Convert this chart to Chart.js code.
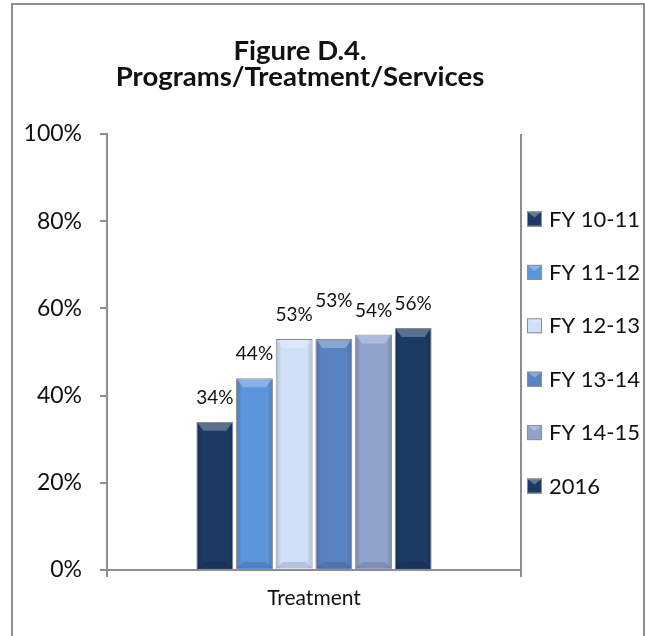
<!DOCTYPE html>
<html>
<head>
<meta charset="utf-8">
<script src="https://cdn.jsdelivr.net/npm/chart.js@4"></script>
<style>
  html, body { margin: 0; padding: 0; background: #fff; }
  #wrap { width: 645px; height: 636px; position: relative; }
</style>
</head>
<body>
<div id="wrap"><canvas id="chart"></canvas></div>
<script>
// data
const categories = ["Treatment"];
const seriesNames = ["FY 10-11", "FY 11-12", "FY 12-13", "FY 13-14", "FY 14-15", "2016"];
const seriesValues = [34, 44, 53, 53, 54, 55.5];
const seriesColors = ["#1d3a64", "#5b95dc", "#cfe0f7", "#5a83c2", "#8fa3cd", "#1d3a64"];
const yTicks = [0, 20, 40, 60, 80, 100];
const titleLines = ["Figure D.4.", "Programs/Treatment/Services"];

// extra lift for labels Excel nudged to avoid overlap
const labelLift = [0, 0, 0, 14, 0, 0];

const FONT = "Lato, 'Open Sans', sans-serif";
const GRAY = "#8e8e8e";

// outer frame + title
const framePlugin = {
  id: "frame",
  beforeDraw(chart) {
    const { ctx } = chart;
    ctx.save();
    ctx.fillStyle = "#fff";
    ctx.fillRect(0, 0, chart.width, chart.height);
    ctx.strokeStyle = GRAY;
    ctx.lineWidth = 2;
    ctx.strokeRect(12, 4, 632, 720);
    ctx.fillStyle = "#111";
    ctx.font = `bold 27.5px ${FONT}`;
    ctx.textAlign = "center";
    ctx.textBaseline = "alphabetic";
    ctx.fillText(titleLines[0], 300, 60);
    ctx.fillText(titleLines[1], 300, 86);
    ctx.restore();
  },
};

// bevel shading, value labels and the legend
const decoPlugin = {
  id: "deco",
  afterDatasetsDraw(chart) {
    const { ctx, chartArea } = chart;
    ctx.save();
    chart.data.datasets.forEach((ds, i) => {
      const meta = chart.getDatasetMeta(i);
      meta.data.forEach((bar, j) => {
        const left = bar.x - bar.width / 2;
        const right = bar.x + bar.width / 2;
        const top = bar.y;
        const bottom = bar.base;
        // side shading
        const g = ctx.createLinearGradient(left, 0, right, 0);
        g.addColorStop(0, "rgba(0,0,0,0.18)");
        g.addColorStop(0.15, "rgba(0,0,0,0)");
        g.addColorStop(0.85, "rgba(0,0,0,0)");
        g.addColorStop(1, "rgba(0,0,0,0.18)");
        ctx.fillStyle = g;
        ctx.fillRect(left + 1, top + 1, bar.width - 2, bottom - top - 2);
        // top bevel
        ctx.fillStyle = "rgba(255,255,255,0.28)";
        ctx.beginPath();
        ctx.moveTo(left + 1, top + 1);
        ctx.lineTo(right - 1, top + 1);
        ctx.lineTo(right - 7, top + 9);
        ctx.lineTo(left + 7, top + 9);
        ctx.closePath();
        ctx.fill();
        // bottom bevel
        ctx.fillStyle = "rgba(0,0,0,0.12)";
        ctx.beginPath();
        ctx.moveTo(left + 1, bottom - 1);
        ctx.lineTo(right - 1, bottom - 1);
        ctx.lineTo(right - 7, bottom - 7);
        ctx.lineTo(left + 7, bottom - 7);
        ctx.closePath();
        ctx.fill();

        // value label
        const v = ds.data[j];
        ctx.fillStyle = "#111";
        ctx.font = `19px ${FONT}`;
        ctx.textAlign = "center";
        ctx.textBaseline = "middle";
        ctx.fillText(Math.round(v) + "%", bar.x, top - 24 - labelLift[i]);
      });
    });

    // legend, centred on the plot area
    const step = 53.4;
    const n = chart.data.datasets.length;
    const midY = (chartArea.top + chartArea.bottom) / 2;
    const startY = midY - ((n - 1) / 2) * step;
    chart.data.datasets.forEach((ds, i) => {
      const cy = startY + i * step;
      const bx = chartArea.right + 6;
      ctx.fillStyle = ds.backgroundColor;
      ctx.fillRect(bx, cy - 7, 15, 15);
      ctx.fillStyle = "rgba(255,255,255,0.3)";
      ctx.beginPath();
      ctx.moveTo(bx, cy - 7);
      ctx.lineTo(bx + 15, cy - 7);
      ctx.lineTo(bx + 7.5, cy - 1);
      ctx.closePath();
      ctx.fill();
      ctx.strokeStyle = GRAY;
      ctx.lineWidth = 1;
      ctx.strokeRect(bx + 0.5, cy - 6.5, 14, 14);
      ctx.fillStyle = "#111";
      ctx.font = `22px ${FONT}`;
      ctx.textAlign = "left";
      ctx.textBaseline = "middle";
      ctx.fillText(ds.label, bx + 22, cy + 1);
    });
    ctx.restore();
  },
};

const datasets = seriesNames.map((name, i) => ({
  label: name,
  data: [seriesValues[i]],
  backgroundColor: seriesColors[i],
  borderColor: "#8a8a8a",
  borderWidth: 1,
}));

new Chart(document.getElementById("chart"), {
  type: "bar",
  data: { labels: categories, datasets },
  options: {
    responsive: true,
    maintainAspectRatio: false,
    animation: false,
    datasets: { bar: { categoryPercentage: 0.575, barPercentage: 0.93 } },
    layout: { padding: { top: 134, right: 124, left: 0, bottom: 0 } },
    plugins: {
      legend: { display: false },
      title: { display: false },
      tooltip: { enabled: false },
    },
    scales: {
      x: {
        offset: true,
        grid: {
          offset: true,
          drawOnChartArea: true,
          drawTicks: true,
          tickLength: 7,
          color: GRAY,
          lineWidth: 2,
        },
        border: { display: true, color: GRAY, width: 2 },
        ticks: { color: "#111", font: { family: FONT, size: 21 }, padding: 9 },
        afterFit(scale) {
          scale.height = 66;
        },
      },
      y: {
        min: 0,
        max: 100,
        afterBuildTicks(scale) {
          scale.ticks = yTicks.map((v) => ({ value: v }));
        },
        grid: {
          drawOnChartArea: false,
          drawTicks: true,
          tickLength: 7,
          color: GRAY,
          lineWidth: 2,
        },
        border: { display: true, color: GRAY, width: 2 },
        ticks: {
          color: "#111",
          font: { family: FONT, size: 23 },
          padding: 18,
          callback: (v) => v + "%",
        },
        afterFit(scale) {
          scale.width = 107;
        },
      },
    },
  },
  plugins: [framePlugin, decoPlugin],
});
</script>
</body>
</html>
